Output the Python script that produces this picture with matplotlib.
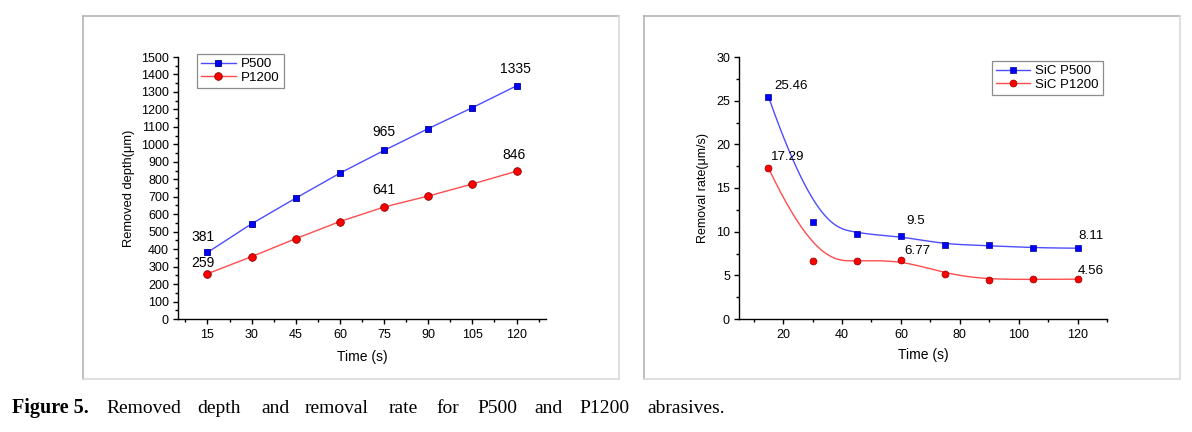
import numpy as np
import matplotlib
matplotlib.use("Agg")
import matplotlib.pyplot as plt
from matplotlib.lines import Line2D
from matplotlib.ticker import MultipleLocator

plt.rcParams['font.family'] = ['Liberation Sans', 'DejaVu Sans']

# ---------------- data ----------------
time_s = [15, 30, 45, 60, 75, 90, 105, 120]
depth_p500 = [381, 545, 692, 835, 965, 1090, 1210, 1335]
depth_p1200 = [259, 357, 460, 558, 641, 704, 773, 846]
rate_p500 = [25.46, 11.07, 9.69, 9.5, 8.51, 8.44, 8.13, 8.11]
rate_p1200 = [17.29, 6.68, 6.62, 6.77, 5.19, 4.47, 4.54, 4.56]

depth_labels_p500 = {15: "381", 75: "965", 120: "1335"}
depth_labels_p1200 = {15: "259", 75: "641", 120: "846"}
rate_labels_p500 = {15: "25.46", 60: "9.5", 120: "8.11"}
rate_labels_p1200 = {15: "17.29", 60: "6.77", 120: "4.56"}

caption_bold = "Figure 5."
caption_words = ["Removed", "depth", "and", "removal", "rate", "for", "P500", "and", "P1200", "abrasives."]

W, H = 1192, 432
fig = plt.figure(figsize=(W / 100, H / 100), dpi=100)


def px_rect(x0, y0, x1, y1):
    return [x0 / W, 1 - y1 / H, (x1 - x0) / W, (y1 - y0) / H]


def bspline(xs, ys, n=300, k=3):
    """Clamped cubic B-spline using the data points as control points."""
    P = np.column_stack([xs, ys]).astype(float)
    m = len(P)
    knots = np.concatenate([np.zeros(k), np.linspace(0, 1, m - k + 1), np.ones(k)])
    t = np.linspace(0, 1, n)
    t[-1] -= 1e-9
    B = np.array([((knots[i] <= t) & (t < knots[i + 1])).astype(float)
                  for i in range(len(knots) - 1)])
    for p in range(1, k + 1):
        Bn = np.zeros((len(knots) - 1 - p, n))
        for i in range(len(knots) - 1 - p):
            d1 = knots[i + p] - knots[i]
            d2 = knots[i + p + 1] - knots[i + 1]
            a = (t - knots[i]) / d1 * B[i] if d1 > 0 else 0
            b = (knots[i + p + 1] - t) / d2 * B[i + 1] if d2 > 0 else 0
            Bn[i] = a + b
        B = Bn
    C = B.T @ P
    return C[:, 0], C[:, 1]


# panel frames (embossed gray boxes)
def frame(x0, y0, x1, y1):
    dark, light = '#b4b4b4', '#d9d9d9'
    fig.add_artist(Line2D([x0 / W, x1 / W], [1 - y0 / H] * 2, color=dark, lw=1.2))
    fig.add_artist(Line2D([x0 / W] * 2, [1 - y0 / H, 1 - y1 / H], color=dark, lw=1.2))
    fig.add_artist(Line2D([x0 / W, x1 / W], [1 - y1 / H] * 2, color=light, lw=1.2))
    fig.add_artist(Line2D([x1 / W] * 2, [1 - y0 / H, 1 - y1 / H], color=light, lw=1.2))


frame(83, 16, 619, 379)
frame(644, 16, 1180, 379)

BLUE_L, RED_L = '#4d4dff', '#ff4d4d'
BLUE_M, RED_M = '#0000ff', '#ff0000'


def style_axes(ax):
    for s in ['top', 'right']:
        ax.spines[s].set_visible(False)
    for s in ['left', 'bottom']:
        ax.spines[s].set_linewidth(1.0)
    ax.tick_params(which='major', direction='out', length=3.5, width=1.0, pad=3)
    ax.tick_params(which='minor', direction='out', length=2, width=1.0)


# ---------------- left panel ----------------
ax1 = fig.add_axes(px_rect(178, 57, 546, 319))
style_axes(ax1)
ax1.plot(time_s, depth_p500, color=BLUE_L, lw=1.0, marker='s', ms=5, mfc=BLUE_M,
         mec='#00008b', mew=0.6, label='P500')
ax1.plot(time_s, depth_p1200, color=RED_L, lw=1.0, marker='o', ms=5.5, mfc=RED_M,
         mec='#8b0000', mew=0.6, label='P1200')
ax1.set_xlim(5, 130)
ax1.set_ylim(0, 1500)
ax1.xaxis.set_minor_locator(MultipleLocator(7.5))
ax1.set_xticks(time_s)
ax1.yaxis.set_major_locator(MultipleLocator(100))
ax1.yaxis.set_minor_locator(MultipleLocator(50))
ax1.tick_params(axis='both', labelsize=9)
ax1.tick_params(axis='x', pad=4)
ax1.set_xlabel('Time (s)', fontsize=10, labelpad=6)
ax1.set_ylabel('Removed depth(μm)', fontsize=9.3, labelpad=4)

offs1 = {15: (-3, 11), 75: (0, 13.5), 120: (-1, 12)}
offs1b = {15: (-3, 8), 75: (0, 12), 120: (-2, 12)}
for x, y in zip(time_s, depth_p500):
    if x in depth_labels_p500:
        ax1.annotate(depth_labels_p500[x], (x, y), xytext=offs1[x], textcoords='offset points',
                     ha='center', va='center', fontsize=10)
for x, y in zip(time_s, depth_p1200):
    if x in depth_labels_p1200:
        ax1.annotate(depth_labels_p1200[x], (x, y), xytext=offs1b[x], textcoords='offset points',
                     ha='center', va='center', fontsize=10)

leg1 = ax1.legend(loc='upper left', bbox_to_anchor=(0.052, 1.011), borderaxespad=0,
                  fontsize=9.6, frameon=True, fancybox=False, handlelength=2.6,
                  handletextpad=0.4, borderpad=0.3, labelspacing=0.1)
leg1.get_frame().set_edgecolor('#707070')
leg1.get_frame().set_linewidth(0.9)

# ---------------- right panel ----------------
ax2 = fig.add_axes(px_rect(739, 57, 1107, 319))
style_axes(ax2)
bx, by = bspline(time_s, rate_p500)
rx, ry = bspline(time_s, rate_p1200)
ax2.plot(bx, by, color=BLUE_L, lw=1.0)
ax2.plot(rx, ry, color=RED_L, lw=1.0)
ax2.plot(time_s, rate_p500, ls='none', marker='s', ms=4.5, mfc=BLUE_M, mec='#00008b', mew=0.5)
ax2.plot(time_s, rate_p1200, ls='none', marker='o', ms=5, mfc=RED_M, mec='#8b0000', mew=0.5)
ax2.set_xlim(5, 130)
ax2.set_ylim(0, 30)
ax2.xaxis.set_major_locator(MultipleLocator(20))
ax2.xaxis.set_minor_locator(MultipleLocator(10))
ax2.yaxis.set_major_locator(MultipleLocator(5))
ax2.yaxis.set_minor_locator(MultipleLocator(2.5))
ax2.tick_params(axis='both', labelsize=9)
ax2.tick_params(axis='x', pad=4)
ax2.set_xlabel('Time (s)', fontsize=10, labelpad=5)
ax2.set_ylabel('Removal rate(μm/s)', fontsize=9, labelpad=5)

offs2 = {15: (16, 8), 60: (11, 11), 120: (10, 8.5)}
offs2b = {15: (14, 8), 60: (11.5, 6.5), 120: (9.5, 6)}
for x, y in zip(time_s, rate_p500):
    if x in rate_labels_p500:
        ax2.annotate(rate_labels_p500[x], (x, y), xytext=offs2[x], textcoords='offset points',
                     ha='center', va='center', fontsize=9.6)
for x, y in zip(time_s, rate_p1200):
    if x in rate_labels_p1200:
        ax2.annotate(rate_labels_p1200[x], (x, y), xytext=offs2b[x], textcoords='offset points',
                     ha='center', va='center', fontsize=9.6)

h2 = [Line2D([], [], color=BLUE_L, lw=1.0, marker='s', ms=4.5, mfc=BLUE_M, mec='#00008b', mew=0.5),
      Line2D([], [], color=RED_L, lw=1.0, marker='o', ms=5, mfc=RED_M, mec='#8b0000', mew=0.5)]
leg2 = ax2.legend(h2, ['SiC P500', 'SiC P1200'], loc='upper right', bbox_to_anchor=(0.989, 0.985),
                  borderaxespad=0, fontsize=9.5, frameon=True, fancybox=False, handlelength=2.6,
                  handletextpad=0.4, borderpad=0.3, labelspacing=0.1)
leg2.get_frame().set_edgecolor('#707070')
leg2.get_frame().set_linewidth(0.9)

# ---------------- caption ----------------
cap_y = 1 - 413 / H
fig.text(12 / W, cap_y, caption_bold, family='Liberation Serif', weight='bold',
         fontsize=14.5, va='baseline', ha='left')
word_x = [106, 197, 261, 305, 389, 436, 477, 534, 579, 647]
for wx, w in zip(word_x, caption_words):
    fig.text(wx / W, cap_y, w, family='Liberation Serif', fontsize=14, va='baseline', ha='left')

fig.savefig('out.png', dpi=100)
